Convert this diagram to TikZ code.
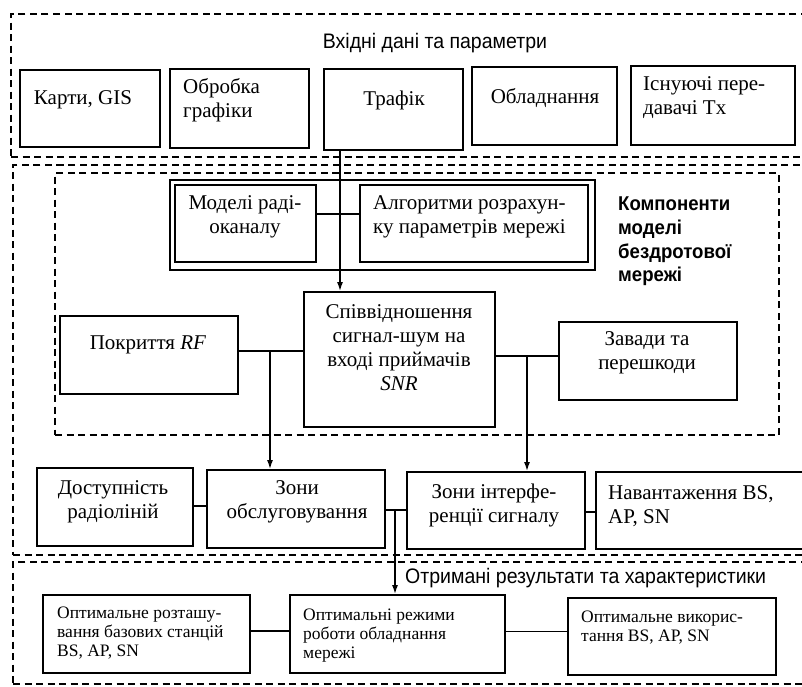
\documentclass[tikz,border=0pt]{standalone}
\usepackage{fontspec}
\setmainfont{Liberation Serif}
\newfontfamily\sansf[FakeStretch=0.93]{Liberation Sans}
\usetikzlibrary{arrows.meta,fit}
\begin{document}
\begin{tikzpicture}[x=1pt,y=-1pt,
  box/.style={draw, line width=1.8pt, inner sep=0pt},
  dbox/.style={draw, line width=1.6pt, dash pattern=on 7pt off 4.5pt},
  txt/.style={font=\fontsize{21}{24}\selectfont, inner sep=0pt, align=center},
  ltxt/.style={txt, align=left, anchor=west},
  stxt/.style={font=\fontsize{17.5}{19}\selectfont, inner sep=0pt, align=left, anchor=west},
  ttl/.style={font=\sansf\fontsize{21}{24}\selectfont, inner sep=0pt},
  btl/.style={font=\sansf\bfseries\fontsize{20}{23.7}\selectfont, inner sep=0pt, align=left, anchor=west},
  con/.style={line width=1.5pt},
  arr/.style={line width=1.5pt, -{Latex[length=9pt,width=6pt]}}
]
\clip (0,0) rectangle (802,686);
% dashed frames
\node[dbox, inner sep=0pt, fit={(11,14) (815,157)}] (inbox) {};
\node[dbox, inner sep=0pt, fit={(13,165) (815,555)}] (modbox) {};
\node[dbox, inner sep=0pt, fit={(55,173) (779,435)}] (compbox) {};
\node[dbox, inner sep=0pt, fit={(13,562) (815,684)}] (resbox) {};
% titles
\node[ttl] (t-in) at (435,43) {Вхідні дані та параметри};
\node[btl] (t-comp) at (618,241.5) {Компоненти\\моделі\\бездротової\\мережі};
\node[ttl, anchor=west] (t-res) at (405,578) {Отримані результати та характеристики};
% row 1
\node[box, fit={(20,70) (160,147)}] (karty) {};
\node[txt] (karty-t) at (83,100) {Карти, GIS};
\node[box, fit={(170,69) (309,148)}] (obr) {};
\node[ltxt] (obr-t) at (183,100.5) {Обробка\\графіки};
\node[box, fit={(324,69) (463,150)}] (traf) {};
\node[txt] (traf-t) at (394,100) {Трафік};
\node[box, fit={(472,67) (617,145)}] (obl) {};
\node[txt] (obl-t) at (545,98) {Обладнання};
\node[box, fit={(631,66) (795,145)}] (isn) {};
\node[ltxt] (isn-t) at (643,98) {Існуючі пере-\\давачі Tx};
% group
\node[box, fit={(170,180) (595,270)}] (grp) {};
\node[box, fit={(175,185) (316,262)}] (mod) {};
\node[txt] (mod-t) at (245,217) {Моделі раді-\\оканалу};
\node[box, fit={(360,185) (588,262)}] (alg) {};
\node[ltxt] (alg-t) at (373,217) {Алгоритми розрахун-\\ку параметрів мережі};
% middle
\node[box, fit={(304,292) (495,427)}] (snr) {};
\node[txt] (snr-t) at (399,348) {Співвідношення\\сигнал-шум на\\вході приймачів\\\textit{SNR}};
\node[box, fit={(60,316) (238,394)}] (pokr) {};
\node[txt] (pokr-t) at (148,345) {Покриття \textit{RF}};
\node[box, fit={(559,322) (737,400)}] (zav) {};
\node[txt] (zav-t) at (647,353) {Завади та\\перешкоди};
% row 3
\node[box, fit={(37,468) (193,546)}] (dost) {};
\node[txt] (dost-t) at (113,501.5) {Доступність\\радіоліній};
\node[box, fit={(207,470) (385,548)}] (zob) {};
\node[txt] (zob-t) at (297,501.5) {Зони\\обслуговування};
\node[box, fit={(407,472) (585,549)}] (zin) {};
\node[txt] (zin-t) at (494,505) {Зони інтерфе-\\ренції сигналу};
\node[box, fit={(596,472) (812,549)}] (nav) {};
\node[ltxt] (nav-t) at (608,506) {Навантаження BS,\\AP, SN};
% row 4
\node[box, fit={(43,595) (250,673)}] (opt1) {};
\node[stxt] (opt1-t) at (57,633.5) {Оптимальне розташу-\\вання базових станцій\\BS, AP, SN};
\node[box, fit={(290,595) (505,673)}] (opt2) {};
\node[stxt] (opt2-t) at (303,635.5) {Оптимальні режими\\роботи обладнання\\мережі};
\node[box, fit={(568,598) (776,675)}] (opt3) {};
\node[stxt] (opt3-t) at (581,627.5) {Оптимальне викорис-\\тання BS, AP, SN};
% connectors
\draw[con] (mod.east |- 0,214) -- (alg.west |- 0,214);
\draw[arr] (340,0 |- traf.south) -- (340,0 |- snr.north);
\draw[con] (pokr.east |- 0,351) -- (snr.west |- 0,351);
\coordinate (j1) at (270,351);
\draw[arr] (j1) -- (j1 |- zob.north);
\draw[con] (snr.east |- 0,356) -- (zav.west |- 0,356);
\coordinate (j2) at (527,356);
\draw[arr] (j2) -- (j2 |- zin.north);
\draw[con] (dost.east |- 0,506) -- (zob.west |- 0,506);
\draw[con] (zob.east |- 0,510) -- (zin.west |- 0,510);
\coordinate (j3) at (395,510);
\draw[arr] (j3) -- (j3 |- opt2.north);
\draw[con] (zin.east |- 0,512) -- (nav.west |- 0,512);
\draw[con] (opt1.east |- 0,631) -- (opt2.west |- 0,631);
\draw[line width=1pt] (opt2.east |- 0,631) -- (opt3.west |- 0,631);
\end{tikzpicture}
\end{document}
